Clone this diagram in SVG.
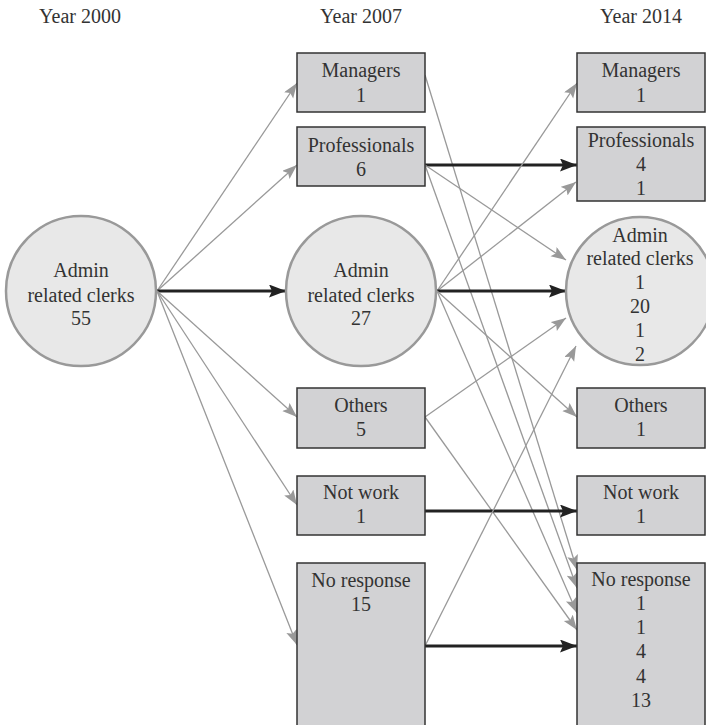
<svg xmlns="http://www.w3.org/2000/svg" width="706" height="725" viewBox="0 0 706 725">
<style>
text{font-family:"Liberation Serif","Times New Roman",serif;font-size:20px;fill:#333;text-anchor:middle}
.box{fill:#d2d2d4;stroke:#333;stroke-width:1.5}
.circ{fill:#e8e8e8;stroke:#999;stroke-width:2.5}
.g{stroke:#999;stroke-width:1.3;fill:none;marker-end:url(#ag)}
.b{stroke:#222;stroke-width:3;fill:none;marker-end:url(#ab)}
</style>
<defs>
<marker id="ag" markerUnits="userSpaceOnUse" markerWidth="16" markerHeight="12" refX="15" refY="5.5" orient="auto">
<path d="M0,0 L15,5.5 L0,11 L3,5.5 z" fill="#999"/>
</marker>
<marker id="ab" markerUnits="userSpaceOnUse" markerWidth="18" markerHeight="14" refX="17" refY="6.5" orient="auto">
<path d="M0,0 L17,6.5 L0,13 L3,6.5 z" fill="#222"/>
</marker>
</defs>
<rect width="706" height="725" fill="#fff"/>
<g id="headers">
<text x="80" y="23">Year 2000</text>
<text x="361" y="23">Year 2007</text>
<text x="641" y="23">Year 2014</text>
</g>
<g id="connectors">
<line class="g" x1="157" y1="291" x2="297" y2="83"/>
<line class="g" x1="157" y1="291" x2="297" y2="165"/>
<line class="b" x1="157" y1="291" x2="286" y2="291"/>
<line class="g" x1="157" y1="291" x2="297" y2="417"/>
<line class="g" x1="157" y1="291" x2="297" y2="505"/>
<line class="g" x1="157" y1="291" x2="297" y2="645"/>
<line class="g" x1="425" y1="75" x2="577" y2="570"/>
<line class="b" x1="425" y1="165" x2="577" y2="165"/>
<line class="g" x1="425" y1="165" x2="566" y2="260"/>
<line class="g" x1="425" y1="165" x2="577" y2="588"/>
<line class="g" x1="437" y1="291" x2="577" y2="83"/>
<line class="g" x1="437" y1="291" x2="576" y2="182"/>
<line class="b" x1="437" y1="291" x2="566" y2="291"/>
<line class="g" x1="437" y1="291" x2="577" y2="417"/>
<line class="g" x1="437" y1="291" x2="577" y2="613"/>
<line class="g" x1="425" y1="417" x2="566" y2="318"/>
<line class="g" x1="425" y1="417" x2="577" y2="630"/>
<line class="b" x1="425" y1="511" x2="577" y2="511"/>
<line class="g" x1="425" y1="646" x2="576" y2="346"/>
<line class="b" x1="425" y1="646" x2="577" y2="646"/>
</g>
<g id="n2000-admin">
<circle class="circ" cx="81" cy="291" r="75"/>
<text x="81" y="277">Admin</text>
<text x="81" y="302">related clerks</text>
<text x="81" y="325">55</text>
</g>
<g id="n2007-managers">
<rect class="box" x="297" y="53" width="128" height="59"/>
<text x="361" y="77">Managers</text>
<text x="361" y="102">1</text>
</g>
<g id="n2007-professionals">
<rect class="box" x="297" y="127" width="128" height="59"/>
<text x="361" y="152">Professionals</text>
<text x="361" y="176">6</text>
</g>
<g id="n2007-admin">
<circle class="circ" cx="361" cy="291" r="75"/>
<text x="361" y="277">Admin</text>
<text x="361" y="302">related clerks</text>
<text x="361" y="325">27</text>
</g>
<g id="n2007-others">
<rect class="box" x="297" y="388" width="128" height="60"/>
<text x="361" y="412">Others</text>
<text x="361" y="436">5</text>
</g>
<g id="n2007-notwork">
<rect class="box" x="297" y="476" width="128" height="59"/>
<text x="361" y="499">Not work</text>
<text x="361" y="523">1</text>
</g>
<g id="n2007-noresponse">
<rect class="box" x="297" y="563" width="128" height="180"/>
<text x="361" y="587">No response</text>
<text x="361" y="611">15</text>
</g>
<g id="n2014-managers">
<rect class="box" x="577" y="53" width="128" height="59"/>
<text x="641" y="77">Managers</text>
<text x="641" y="102">1</text>
</g>
<g id="n2014-professionals">
<rect class="box" x="577" y="127" width="128" height="74"/>
<text x="641" y="147">Professionals</text>
<text x="641" y="171">4</text>
<text x="641" y="195">1</text>
</g>
<g id="n2014-admin">
<circle class="circ" cx="640" cy="291" r="74"/>
<text x="640" y="242">Admin</text>
<text x="640" y="265">related clerks</text>
<text x="640" y="289">1</text>
<text x="640" y="313">20</text>
<text x="640" y="337">1</text>
<text x="640" y="361">2</text>
</g>
<g id="n2014-others">
<rect class="box" x="577" y="388" width="128" height="60"/>
<text x="641" y="412">Others</text>
<text x="641" y="436">1</text>
</g>
<g id="n2014-notwork">
<rect class="box" x="577" y="476" width="128" height="59"/>
<text x="641" y="499">Not work</text>
<text x="641" y="523">1</text>
</g>
<g id="n2014-noresponse">
<rect class="box" x="577" y="563" width="128" height="180"/>
<text x="641" y="586">No response</text>
<text x="641" y="610">1</text>
<text x="641" y="634">1</text>
<text x="641" y="658">4</text>
<text x="641" y="683">4</text>
<text x="641" y="707">13</text>
</g>
</svg>
